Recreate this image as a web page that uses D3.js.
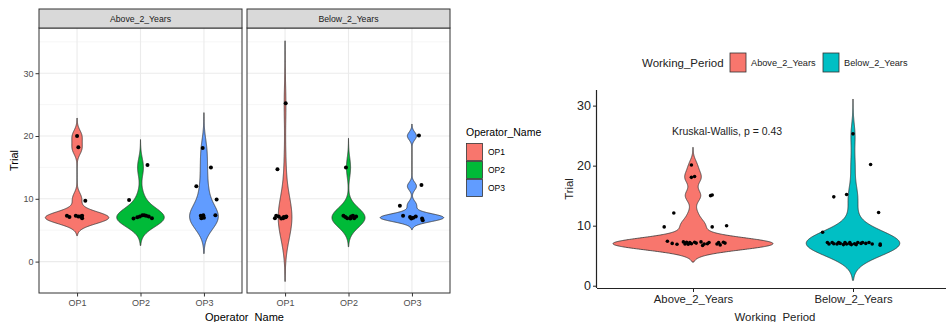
<!DOCTYPE html>
<html>
<head>
<meta charset="utf-8">
<script src="https://cdn.jsdelivr.net/npm/d3@7"></script>
<style>
  body { margin: 0; background: #fff; }
  text { font-family: "Liberation Sans", Arial, sans-serif; }
</style>
</head>
<body>
<svg id="chart" width="946" height="322"></svg>
<script>
const facets = ["Above_2_Years", "Below_2_Years"];
const operators = ["OP1", "OP2", "OP3"];
const periods = ["Above_2_Years", "Below_2_Years"];
const opColors = ["#F8766D", "#00BA38", "#619CFF"];
const periodColors = ["#F8766D", "#00BFC4"];
const yTicks = [0, 10, 20, 30];
const yMinor = [5, 15, 25, 35];

// Trials per operator, working period above 2 years
const aboveOP1 = [7, 7, 7, 7, 7, 7, 7, 10, 18, 20];
const aboveOP2 = [7, 7, 7, 7, 7, 7, 7, 7, 10, 15];
const aboveOP3 = [7, 7, 7, 7, 7, 7, 10, 12, 15, 18];
// ... and below 2 years
const belowOP1 = [7, 7, 7, 7, 7, 7, 7, 7, 15, 25];
const belowOP2 = [7, 7, 7, 7, 7, 7, 7, 7, 15];
const belowOP3 = [7, 7, 7, 7, 7, 7, 7, 9, 12, 20];

// jitter as seen in the picture: [x offset in bands, y offset in trials], same order as above
const aboveOP1Jitter = [[-0.16, 0.3], [-0.12, 0.1], [-0.02, 0.3], [0.02, 0.2], [0.05, 0.2], [0.08, -0.1], [0.08, 0.3], [0.13, -0.3], [0.02, 0.2], [0, 0]];
const aboveOP2Jitter = [[-0.11, -0.15], [-0.05, 0.05], [-0.01, 0.2], [0.03, 0.4], [0.06, 0.4], [0.13, 0.2], [0.18, -0.1], [0.09, 0.3], [-0.18, -0.2], [0.11, 0.4]];
const aboveOP3Jitter = [[-0.05, 0.3], [-0.03, 0.1], [-0.04, -0.1], [-0.01, 0.4], [0, 0], [0.18, 0.4], [0.2, -0.1], [-0.12, 0], [0.11, 0], [-0.02, 0.1]];
const belowOP1Jitter = [[-0.16, -0.1], [-0.14, 0.3], [-0.1, 0.2], [-0.06, -0.15], [-0.03, -0.1], [0.01, 0.06], [0.02, 0.2], [-0.02, 0.1], [-0.12, -0.3], [0.01, 0.2]];
const belowOP2Jitter = [[-0.08, 0.3], [-0.05, 0.1], [-0.02, -0.1], [0.04, 0.2], [0.07, 0.3], [0.09, -0.1], [0.12, 0.2], [0.03, -0.15], [-0.04, 0]];
const belowOP3Jitter = [[-0.14, 0.3], [-0.03, 0.1], [-0.01, -0.15], [0.06, 0.2], [0.16, -0.15], [0.17, -0.4], [0.02, 0], [-0.19, -0.1], [0.15, 0.2], [0.11, 0.1]];

// right plot: jittered points as read, [x offset in bands, trial]
const abovePoints = [[-0.01, 20.1], [-0.01, 18.05], [0.01, 18.2], [0.12, 15.1], [0.11, 15.0], [-0.12, 12.1], [-0.18, 9.8], [0.12, 9.8], [0.21, 10.0],
  [-0.16, 7.4], [-0.13, 7.05], [-0.1, 6.9], [-0.06, 7.3], [-0.05, 6.95], [-0.04, 7.25], [-0.03, 6.9], [-0.02, 7.2], [-0.01, 7.0], [0.01, 7.25], [0.02, 7.1],
  [0.05, 7.3], [0.06, 6.7], [0.07, 6.95], [0.09, 7.0], [0.1, 7.2], [0.15, 6.95], [0.16, 7.2], [0.17, 6.8], [0.19, 7.25], [0.2, 7.1]];
const belowPoints = [[0, 25.3], [0.11, 20.2], [-0.12, 14.8], [-0.04, 15.2], [0.16, 12.2], [-0.19, 8.9],
  [-0.16, 7.2], [-0.15, 6.95], [-0.13, 7.2], [-0.12, 7.0], [-0.1, 6.95], [-0.09, 7.2], [-0.08, 7.05], [-0.06, 6.85], [-0.05, 7.2], [-0.04, 6.95],
  [-0.02, 7.2], [-0.02, 7.0], [-0.01, 6.85], [0.01, 7.0], [0.02, 6.85], [0.03, 7.2], [0.05, 7.05], [0.06, 7.2], [0.08, 7.05], [0.1, 7.2], [0.12, 6.95], [0.17, 6.95], [0.17, 6.75]];

const kwLabel = "Kruskal-Wallis, p = 0.43";

const groups = {
  Above_2_Years: [[aboveOP1, aboveOP1Jitter], [aboveOP2, aboveOP2Jitter], [aboveOP3, aboveOP3Jitter]],
  Below_2_Years: [[belowOP1, belowOP1Jitter], [belowOP2, belowOP2Jitter], [belowOP3, belowOP3Jitter]]
};
const pooled = [aboveOP1.concat(aboveOP2, aboveOP3), belowOP1.concat(belowOP2, belowOP3)];
const pooledPoints = [abovePoints, belowPoints];

// R's bw.nrd0 and a gaussian kde over min-3bw .. max+3bw (violin trim = FALSE)
function bwNrd0(x) {
  const s = x.slice().sort(d3.ascending);
  const hi = d3.deviation(s);
  let lo = Math.min(hi, (d3.quantileSorted(s, 0.75) - d3.quantileSorted(s, 0.25)) / 1.34);
  if (!lo) lo = hi || Math.abs(s[0]) || 1;
  return 0.9 * lo * Math.pow(s.length, -0.2);
}
function kde(values) {
  const bw = bwNrd0(values);
  const lo = d3.min(values) - 3 * bw, hi = d3.max(values) + 3 * bw;
  return d3.range(512).map(i => {
    const t = lo + (hi - lo) * i / 511;
    const d = d3.mean(values, v => Math.exp(-0.5 * ((t - v) / bw) ** 2)) / (bw * Math.sqrt(2 * Math.PI));
    return [t, d];
  });
}

const svg = d3.select("#chart");
svg.append("rect").attr("width", 946).attr("height", 322).attr("fill", "#fff");

const violinWidth = 1.0;

function drawViolin(g, dens, cx, step, maxD, y, fill) {
  const area = d3.area()
    .x0(d => cx - d[1] / maxD * violinWidth / 2 * step)
    .x1(d => cx + d[1] / maxD * violinWidth / 2 * step)
    .y(d => y(d[0]));
  g.append("path").attr("d", area(dens))
    .attr("fill", fill).attr("stroke", "#333").attr("stroke-width", 0.8);
}

// ---------- left: facetted violins ----------
const panelTop = 28, panelBottom = 293, stripTop = 9;
const panelX = [[39, 242], [247, 450]];
const yL = d3.scaleLinear().domain([-5, 37.2]).range([panelBottom, panelTop]);

facets.forEach((f, i) => {
  const [x0, x1] = panelX[i];
  const x = d3.scalePoint().domain(operators).range([x0, x1]).padding(0.6);
  const step = x.step();
  const g = svg.append("g");

  g.append("rect").attr("x", x0).attr("y", panelTop).attr("width", x1 - x0).attr("height", panelBottom - panelTop).attr("fill", "#fff");

  // grid
  g.append("g").selectAll("line").data(yMinor).join("line")
    .attr("x1", x0).attr("x2", x1).attr("y1", d => yL(d)).attr("y2", d => yL(d))
    .attr("stroke", "#F0F0F0").attr("stroke-width", 0.6);
  g.append("g").selectAll("line").data(yTicks).join("line")
    .attr("x1", x0).attr("x2", x1).attr("y1", d => yL(d)).attr("y2", d => yL(d))
    .attr("stroke", "#EBEBEB").attr("stroke-width", 1.1);
  g.append("g").selectAll("line").data(operators).join("line")
    .attr("x1", d => x(d)).attr("x2", d => x(d)).attr("y1", panelTop).attr("y2", panelBottom)
    .attr("stroke", "#EBEBEB").attr("stroke-width", 1.1);

  const dens = groups[f].map(([vals]) => kde(vals));
  const maxD = d3.max(dens, d => d3.max(d, p => p[1]));
  groups[f].forEach(([vals, jit], k) => {
    drawViolin(g, dens[k], x(operators[k]), step, maxD, yL, opColors[k]);
    g.append("g").selectAll("circle").data(vals.map((v, j) => [v, jit[j]])).join("circle")
      .attr("cx", d => x(operators[k]) + d[1][0] * step)
      .attr("cy", d => yL(d[0] + d[1][1]))
      .attr("r", 2).attr("fill", "#000");
  });

  g.append("rect").attr("x", x0).attr("y", panelTop).attr("width", x1 - x0).attr("height", panelBottom - panelTop)
    .attr("fill", "none").attr("stroke", "#333").attr("stroke-width", 1);

  // strip
  g.append("rect").attr("x", x0).attr("y", stripTop).attr("width", x1 - x0).attr("height", panelTop - stripTop)
    .attr("fill", "#D9D9D9").attr("stroke", "#333").attr("stroke-width", 1);
  g.append("text").attr("x", (x0 + x1) / 2).attr("y", (stripTop + panelTop) / 2 + 3.2)
    .attr("text-anchor", "middle").attr("font-size", 8.7).attr("fill", "#1A1A1A").text(f);

  // x axis
  const xa = g.append("g").attr("transform", `translate(0,${panelBottom})`)
    .call(d3.axisBottom(x).tickSize(3.5).tickPadding(3));
  xa.select(".domain").remove();
  xa.selectAll("line").attr("stroke", "#333");
  xa.selectAll("text").attr("font-size", 9).attr("fill", "#4D4D4D").attr("font-family", "Liberation Sans, Arial, sans-serif");

  if (i === 0) {
    const ya = g.append("g").attr("transform", `translate(${x0},0)`)
      .call(d3.axisLeft(yL).tickValues(yTicks).tickSize(3.5).tickPadding(2));
    ya.select(".domain").remove();
    ya.selectAll("line").attr("stroke", "#333");
    ya.selectAll("text").attr("font-size", 9).attr("fill", "#4D4D4D").attr("font-family", "Liberation Sans, Arial, sans-serif");
  }
});

svg.append("text").attr("transform", `translate(18,${(panelTop + panelBottom) / 2}) rotate(-90)`)
  .attr("text-anchor", "middle").attr("font-size", 11).text("Trial");
svg.append("text").attr("x", (panelX[0][0] + panelX[1][1]) / 2).attr("y", 321)
  .attr("text-anchor", "middle").attr("font-size", 11).text("Operator_Name");

// operator legend
const legL = svg.append("g").attr("transform", "translate(466,136)");
legL.append("text").attr("font-size", 10.5).text("Operator_Name");
operators.forEach((o, k) => {
  legL.append("rect").attr("x", 0.5).attr("y", 7.5 + k * 18).attr("width", 16).attr("height", 17)
    .attr("fill", opColors[k]).attr("stroke", "#333").attr("stroke-width", 0.8);
  legL.append("text").attr("x", 22).attr("y", 16 + k * 18 + 3).attr("font-size", 8.5).text(o);
});

// ---------- right: pooled violins ----------
const rx0 = 597, rx1 = 949, rTop = 90, rBottom = 288;
const xR = d3.scalePoint().domain(periods).range([rx0, rx1]).padding(0.6);
const yR = d3.scaleLinear().domain([-0.38, 32.6]).range([rBottom, rTop]);
const stepR = xR.step();
const gR = svg.append("g");

const densR = pooled.map(kde);
const maxR = d3.max(densR, d => d3.max(d, p => p[1]));
periods.forEach((p, k) => {
  drawViolin(gR, densR[k], xR(p), stepR, maxR, yR, periodColors[k]);
  gR.append("g").selectAll("circle").data(pooledPoints[k]).join("circle")
    .attr("cx", d => xR(p) + d[0] * stepR)
    .attr("cy", d => yR(d[1]))
    .attr("r", 1.8).attr("fill", "#000");
});

gR.append("text").attr("x", xR(periods[0]) - 21).attr("y", yR(25.7) + 3.7)
  .attr("font-size", 10.5).attr("fill", "#222").text(kwLabel);

const xaR = gR.append("g").attr("transform", `translate(0,${rBottom})`)
  .call(d3.axisBottom(xR).tickSize(4).tickPadding(3));
xaR.select(".domain").attr("d", `M${rx0},0.5H${rx1}`).attr("stroke", "#222").attr("stroke-width", 1.2);
xaR.selectAll("line").attr("stroke", "#222");
xaR.selectAll("text").attr("font-size", 11.3).attr("fill", "#222").attr("font-family", "Liberation Sans, Arial, sans-serif");

const yaR = gR.append("g").attr("transform", `translate(${rx0},0)`)
  .call(d3.axisLeft(yR).tickValues(yTicks).tickSize(4).tickPadding(2));
yaR.select(".domain").attr("d", `M-0.5,${rTop}V${rBottom}`).attr("stroke", "#222").attr("stroke-width", 1.2);
yaR.selectAll("line").attr("stroke", "#222");
yaR.selectAll("text").attr("font-size", 12.5).attr("fill", "#222").attr("font-family", "Liberation Sans, Arial, sans-serif");

svg.append("text").attr("transform", `translate(573,${(rTop + rBottom) / 2}) rotate(-90)`)
  .attr("text-anchor", "middle").attr("font-size", 11.3).attr("fill", "#222").text("Trial");
svg.append("text").attr("x", (rx0 + rx1) / 2 + 2).attr("y", 321)
  .attr("text-anchor", "middle").attr("font-size", 11.4).attr("fill", "#222").text("Working_Period");

// period legend on top
const legR = svg.append("g");
legR.append("text").attr("x", 642).attr("y", 67.3).attr("font-size", 11.5).attr("fill", "#222").text("Working_Period");
const keyX = [730, 823];
periods.forEach((p, k) => {
  legR.append("rect").attr("x", keyX[k]).attr("y", 53).attr("width", 16).attr("height", 19)
    .attr("fill", periodColors[k]).attr("stroke", "#333").attr("stroke-width", 0.8);
  legR.append("text").attr("x", keyX[k] + 21).attr("y", 66.3).attr("font-size", 9.2).attr("fill", "#222").text(p);
});
</script>
</body>
</html>
